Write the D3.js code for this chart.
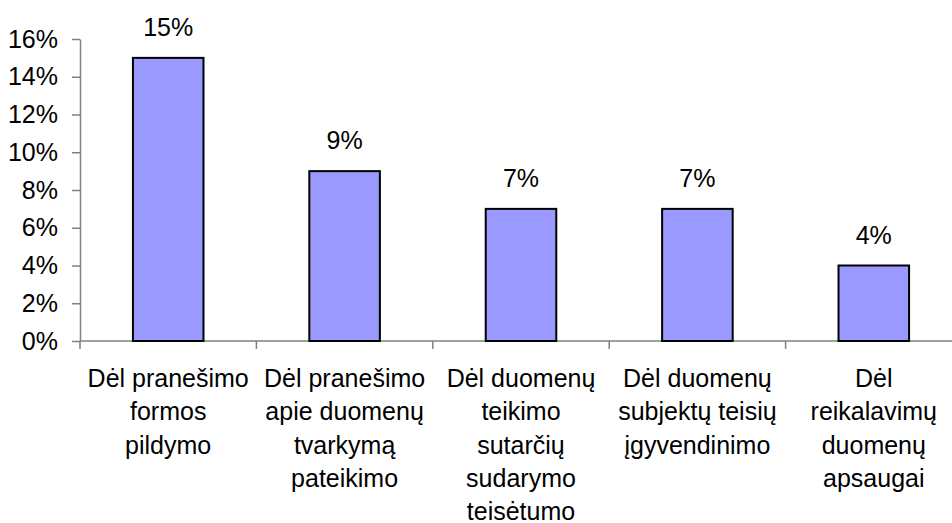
<!DOCTYPE html>
<html>
<head>
<meta charset="utf-8">
<script src="https://cdn.jsdelivr.net/npm/d3@7"></script>
<style>
  body { margin: 0; background: #fff; }
  svg { font-family: "Liberation Sans", Arial, sans-serif; }
</style>
</head>
<body>
<div id="chart"></div>
<script>
var categories = [
  "Dėl pranešimo|formos|pildymo",
  "Dėl pranešimo|apie duomenų|tvarkymą|pateikimo",
  "Dėl duomenų|teikimo|sutarčių|sudarymo|teisėtumo",
  "Dėl duomenų|subjektų teisių|įgyvendinimo",
  "Dėl|reikalavimų|duomenų|apsaugai"
]
var values = [0.15, 0.09, 0.07, 0.07, 0.04]
var yTicks = [0, 0.02, 0.04, 0.06, 0.08, 0.10, 0.12, 0.14, 0.16]

var width = 952, height = 523
var plotLeft = 80, plotRight = 962, plotTop = 39, plotBottom = 341

var svg = d3.select("#chart").append("svg")
  .attr("width", width)
  .attr("height", height)

var x = d3.scaleBand().domain(categories).range([plotLeft, plotRight]).paddingInner(0.6).paddingOuter(0.3)
var y = d3.scaleLinear().domain([0, 0.16]).range([plotBottom, plotTop])
var fmt = d3.format(".0%")

// y axis
var yAxis = svg.append("g")
  .attr("transform", "translate(" + plotLeft + ",0)")
  .call(d3.axisLeft(y).tickValues(yTicks).tickFormat(fmt).tickSize(8).tickSizeOuter(0).tickPadding(14))
yAxis.selectAll("path, line").attr("stroke", "#808080").attr("stroke-width", 1.5)
yAxis.selectAll("text").style("font-size", "25px").style("fill", "#000").attr("font-family", null)

// x axis line and boundary ticks
var step = x.step()
var bounds = d3.range(categories.length).map(function (i) { return plotLeft + i * step })
svg.append("line")
  .attr("x1", plotLeft).attr("x2", plotRight)
  .attr("y1", y(0)).attr("y2", y(0))
  .attr("stroke", "#808080").attr("stroke-width", 1.5)
svg.selectAll(".xtick").data(bounds).enter().append("line")
  .attr("class", "xtick")
  .attr("x1", function (d) { return d }).attr("x2", function (d) { return d })
  .attr("y1", y(0)).attr("y2", y(0) + 8)
  .attr("stroke", "#808080").attr("stroke-width", 1.5)

// bars
svg.selectAll(".bar").data(values).enter().append("rect")
  .attr("class", "bar")
  .attr("x", function (d, i) { return x(categories[i]) })
  .attr("y", function (d) { return y(d) })
  .attr("width", x.bandwidth())
  .attr("height", function (d) { return y(0) - y(d) })
  .attr("fill", "#9999FF")
  .attr("stroke", "#000")
  .attr("stroke-width", 2)

// value labels
svg.selectAll(".val").data(values).enter().append("text")
  .attr("class", "val")
  .attr("x", function (d, i) { return x(categories[i]) + x.bandwidth() / 2 })
  .attr("y", function (d) { return y(d) - 22 })
  .attr("text-anchor", "middle")
  .style("font-size", "25px")
  .text(function (d) { return fmt(d) })

// category labels
var labels = svg.selectAll(".cat").data(categories).enter().append("text")
  .attr("class", "cat")
  .attr("text-anchor", "middle")
  .style("font-size", "25px")
labels.selectAll("tspan").data(function (d) {
    var cx = x(d) + x.bandwidth() / 2
    return d.split("|").map(function (t) { return { t: t, cx: cx } })
  }).enter().append("tspan")
  .attr("x", function (d) { return d.cx })
  .attr("y", function (d, i) { return y(0) + 46 + i * 33.3 })
  .text(function (d) { return d.t })
</script>
</body>
</html>
